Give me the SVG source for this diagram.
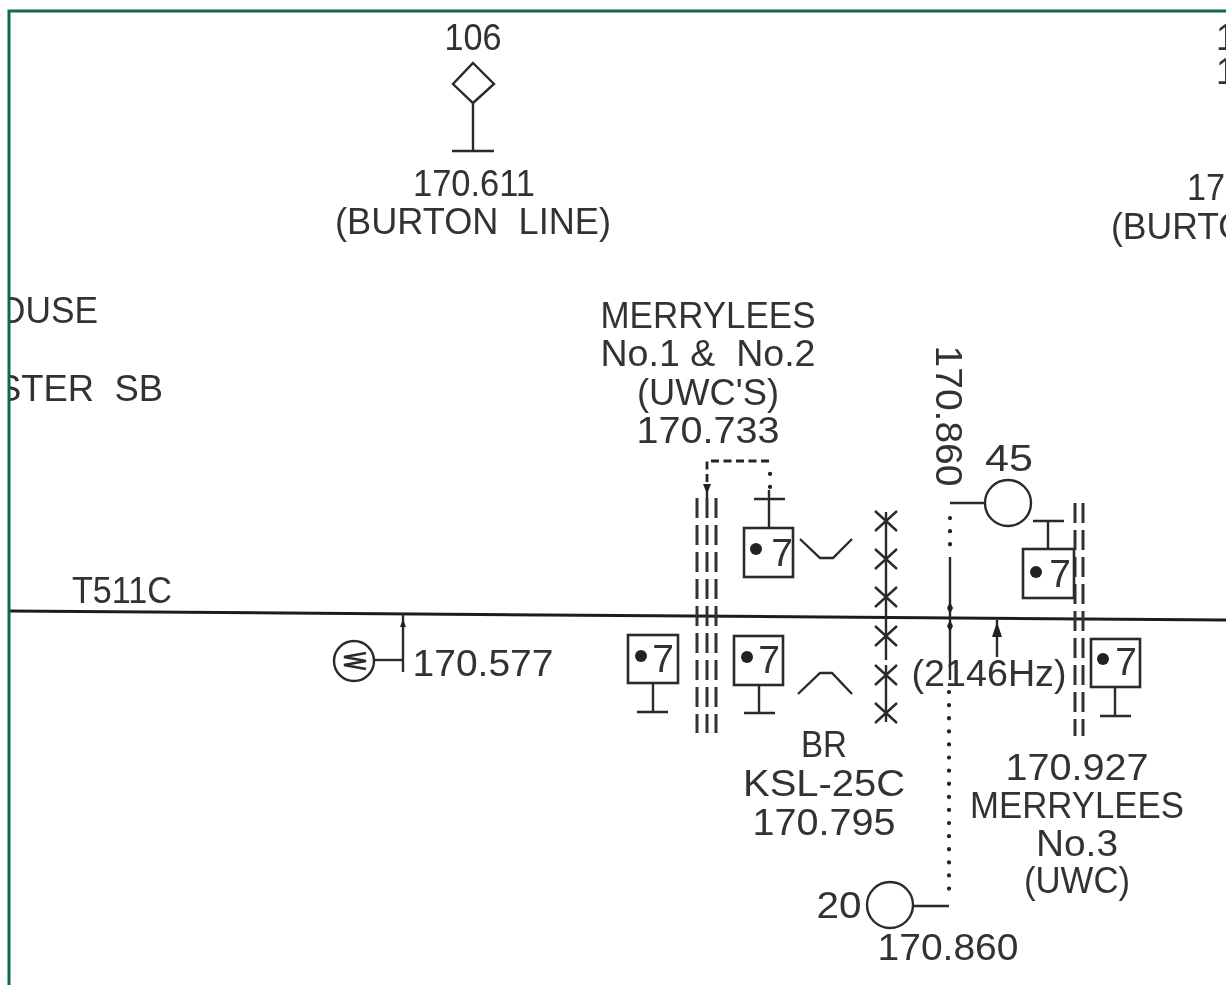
<svg xmlns="http://www.w3.org/2000/svg" width="1226" height="985" viewBox="0 0 1226 985">
<style>
text{font-family:"Liberation Sans",Arial,sans-serif;font-size:36px;fill:#333;text-anchor:middle;white-space:pre}
.s{text-anchor:start}
.l{fill:none;stroke:#2a2a2a;stroke-width:2.4}
.t{fill:none;stroke:#1c1c1c;stroke-width:3}
.d{fill:none;stroke:#333;stroke-width:3;stroke-dasharray:20 7}
.dot{fill:none;stroke:#222;stroke-width:4.2;stroke-linecap:round;stroke-dasharray:.1 13}
.dash{fill:none;stroke:#222;stroke-width:2.8;stroke-dasharray:8 4.5}
.box{fill:none;stroke:#2a2a2a;stroke-width:2.6}
.sev{font-size:39px}
.a{fill:#222;stroke:none}
</style>
<defs><filter id="b" x="0" y="0" width="100%" height="100%" filterUnits="userSpaceOnUse"><feGaussianBlur stdDeviation=".55"/></filter></defs>
<rect width="1226" height="985" fill="#fff"/>
<g id="art" filter="url(#b)">
<g id="labels">
<text x="473" y="50" textLength="57" lengthAdjust="spacingAndGlyphs">106</text>
<text x="474" y="196" textLength="122" lengthAdjust="spacingAndGlyphs">170.611</text>
<text x="473" y="234" textLength="276" lengthAdjust="spacingAndGlyphs">(BURTON  LINE)</text>
<text x="708" y="328" textLength="215" lengthAdjust="spacingAndGlyphs">MERRYLEES</text>
<text x="708" y="366" textLength="215" lengthAdjust="spacingAndGlyphs">No.1 &amp;  No.2</text>
<text x="708" y="405" textLength="142" lengthAdjust="spacingAndGlyphs">(UWC'S)</text>
<text x="708" y="443" textLength="143" lengthAdjust="spacingAndGlyphs">170.733</text>
<text x="122" y="603" textLength="100" lengthAdjust="spacingAndGlyphs">T511C</text>
<text x="483" y="676" textLength="141" lengthAdjust="spacingAndGlyphs">170.577</text>
<text x="824" y="757" textLength="46" lengthAdjust="spacingAndGlyphs">BR</text>
<text x="824" y="796" textLength="162" lengthAdjust="spacingAndGlyphs">KSL-25C</text>
<text x="824" y="835" textLength="143" lengthAdjust="spacingAndGlyphs">170.795</text>
<text x="1077" y="780" textLength="143" lengthAdjust="spacingAndGlyphs">170.927</text>
<text x="1077" y="818" textLength="214" lengthAdjust="spacingAndGlyphs">MERRYLEES</text>
<text x="1077" y="856" textLength="82" lengthAdjust="spacingAndGlyphs">No.3</text>
<text x="1077" y="893" textLength="106" lengthAdjust="spacingAndGlyphs">(UWC)</text>
<text x="989" y="686" textLength="155" lengthAdjust="spacingAndGlyphs">(2146Hz)</text>
<text x="1009" y="471" textLength="48" lengthAdjust="spacingAndGlyphs">45</text>
<text x="839" y="918" textLength="45" lengthAdjust="spacingAndGlyphs">20</text>
<text x="948" y="960" textLength="141" lengthAdjust="spacingAndGlyphs">170.860</text>
<text transform="translate(936,416) rotate(90)" textLength="141" lengthAdjust="spacingAndGlyphs">170.860</text>
<text class="s" x="-2" y="323" textLength="100" lengthAdjust="spacingAndGlyphs">OUSE</text>
<text class="s" x="-3" y="401" textLength="166" lengthAdjust="spacingAndGlyphs">STER  SB</text>
<text class="s" x="1216" y="50">1</text>
<text class="s" x="1216" y="84">1</text>
<text class="s" x="1187" y="200" textLength="57" lengthAdjust="spacingAndGlyphs">171</text>
<text class="s" x="1111" y="239" textLength="135" lengthAdjust="spacingAndGlyphs">(BURTO</text>
</g>
<g id="connectors">
<path class="t" d="M9 611 L1226 620"/>
<path class="dot" d="M770 487V461"/>
<path class="dash" d="M769 461H707V485"/>
<path class="l" d="M707 484V498"/>
<path class="a" d="M703 484h8l-4 10z"/>
<path class="d" d="M697 498V733M707 498V733M716 498V733"/>
<path class="d" d="M1075 503V736M1083 503V736"/>
<path class="l" d="M403 672V614"/>
<path class="a" d="M400 627h6l-3 -8z"/>
<path class="l" d="M374 660H403"/>
<path class="l" d="M950 503H985"/>
<path class="dot" d="M950 518V550"/>
<path class="l" d="M950 557V680"/>
<path class="dot" d="M949 692V895"/>
<path class="l" d="M949 906H914"/>
<path class="a" d="M950 602l3 6-3 6-3-6z"/>
<path class="a" d="M950 620l3 6-3 6-3-6z"/>
<path class="l" d="M997 657V620"/>
<path class="a" d="M992 637h10l-5 -15z"/>
<path class="l" d="M886 512V660M886 665V722"/>
</g>
<g id="sig-106" class="l"><path d="M473 63 L494 84 L473 103 L453 84Z"/><path d="M473 103V151M452 151H494"/></g>
<g id="motor"><circle class="l" cx="354" cy="661" r="20"/><path class="l" d="M366 653L344 657L366 661L344 665L366 669"/></g>
<g id="sig-a"><path class="l" d="M769 490V528M754 499H785"/><rect class="box" x="744" y="528" width="49" height="49"/><circle class="a" cx="756" cy="549" r="6"/><text class="sev" x="782" y="566">7</text></g>
<g id="sig-b"><path class="l" d="M653 683V712M637 712H668"/><rect class="box" x="628" y="635" width="50" height="48"/><circle class="a" cx="641" cy="656" r="6"/><text class="sev" x="663" y="672">7</text></g>
<g id="sig-c"><path class="l" d="M759 685V713M744 713H775"/><rect class="box" x="734" y="636" width="49" height="49"/><circle class="a" cx="747" cy="657" r="6"/><text class="sev" x="769" y="673">7</text></g>
<g id="sig-d"><path class="l" d="M1048 521V549M1033 521H1064"/><rect class="box" x="1023" y="549" width="51" height="49"/><circle class="a" cx="1036" cy="572" r="6"/><text class="sev" x="1060" y="587">7</text></g>
<g id="sig-e"><path class="l" d="M1115 687V716M1100 716H1131"/><rect class="box" x="1091" y="639" width="49" height="48"/><circle class="a" cx="1103" cy="659" r="6"/><text class="sev" x="1126" y="675">7</text></g>
<g id="curve-up"><path class="l" d="M800 539 L820 558 H833 L852 539"/></g>
<g id="curve-down"><path class="l" d="M798 694 L820 673 H832 L852 694"/></g>
<g id="insulators" class="l"><path d="M875 511L897 531M897 511L875 531M875 549L897 569M897 549L875 569M875 587L897 607M897 587L875 607M875 626L897 646M897 626L875 646M875 665L897 685M897 665L875 685M875 703L897 723M897 703L875 723"/></g>
<g id="sig-45"><circle class="l" cx="1008" cy="503" r="23"/></g>
<g id="sig-20"><circle class="l" cx="890" cy="905" r="23"/></g>
</g>
<g id="frame"><rect x="0" y="0" width="8" height="985" fill="#fff"/><path d="M9 985V11H1226" fill="none" stroke="#0d6b4c" stroke-width="3"/></g>
</svg>
